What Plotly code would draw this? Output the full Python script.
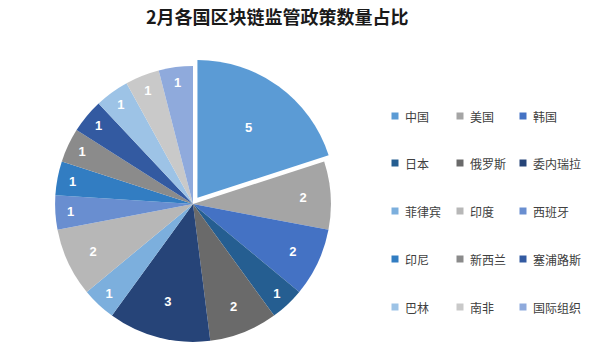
import plotly.graph_objects as go

title = "2月各国区块链监管政策数量占比"
labels = ["中国", "美国", "韩国", "日本", "俄罗斯", "委内瑞拉", "菲律宾", "印度",
          "西班牙", "印尼", "新西兰", "塞浦路斯", "巴林", "南非", "国际组织"]
values = [5, 2, 2, 1, 2, 3, 1, 2, 1, 1, 1, 1, 1, 1, 1]
colors = ["#5B9BD5", "#A5A5A5", "#4472C4", "#255E91", "#6A6A6A", "#264478",
          "#7CAFDD", "#B7B7B7", "#698ED0", "#327DC2", "#8B8B8B", "#335AA1",
          "#9DC3E6", "#C9C9C9", "#8FAADC"]
pulls = [0.055] + [0] * 14

W, H = 600, 355
cx, cy, half = 193, 204, 145.5

fig = go.Figure()
fig.add_trace(go.Pie(
    labels=labels, values=values, sort=False, direction="clockwise", rotation=0,
    pull=pulls, marker=dict(colors=colors, line=dict(width=0)),
    textinfo="value", textposition="inside", insidetextorientation="horizontal",
    textfont=dict(family="Liberation Sans, Arial", size=13, color="white", weight="bold"),
    domain=dict(x=[(cx - half) / W, (cx + half) / W],
                y=[(H - cy - half) / H, (H - cy + half) / H]),
    showlegend=False, hoverinfo="label+value",
))

shapes, annotations = [], []
col_x = [395, 460, 523]
row_y = [116, 163, 211, 259, 307]
for i, lab in enumerate(labels):
    r, c = divmod(i, 3)
    x0, y0 = col_x[c], row_y[r]
    shapes.append(dict(type="rect", xref="paper", yref="paper",
                       x0=(x0 - 3.5) / W, x1=(x0 + 3.5) / W,
                       y0=(H - y0 - 3.5) / H, y1=(H - y0 + 3.5) / H,
                       fillcolor=colors[i], line=dict(width=0)))
    annotations.append(dict(text=lab, xref="paper", yref="paper",
                            x=(x0 + 8) / W, y=(H - y0) / H, xanchor="left", yanchor="middle",
                            showarrow=False,
                            font=dict(family="Noto Sans CJK SC", size=12, color="#404040")))

annotations.append(dict(text="<b>" + title + "</b>", xref="paper", yref="paper",
                        x=277 / W, y=(H - 16) / H, xanchor="center", yanchor="middle",
                        showarrow=False,
                        font=dict(family="Noto Sans CJK SC", size=18, color="#1a1a1a")))

fig.update_layout(width=W, height=H, margin=dict(l=0, r=0, t=0, b=0),
                  paper_bgcolor="white", plot_bgcolor="white",
                  shapes=shapes, annotations=annotations)
fig.write_html("out.html")
